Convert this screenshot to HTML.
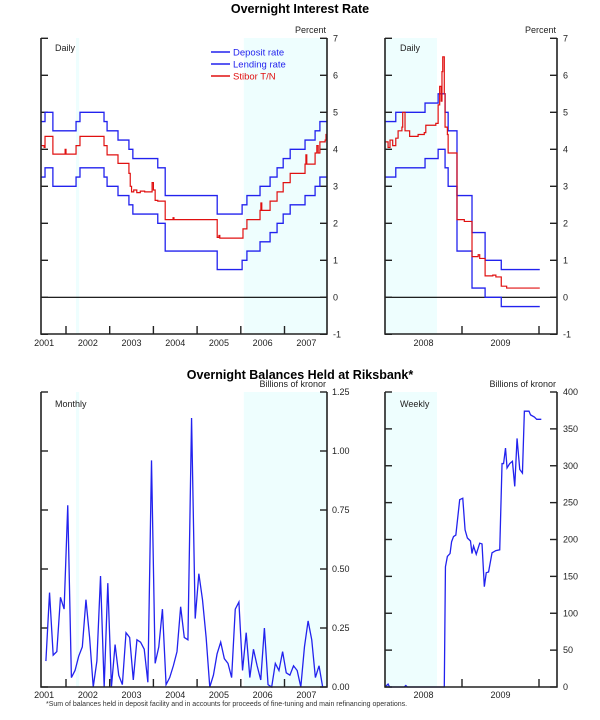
<!DOCTYPE html>
<html><head><meta charset="utf-8"><style>
body{margin:0;background:#fff;}
svg{display:block;font-family:"Liberation Sans",Arial,sans-serif;}
</style></head><body>
<svg id="c" width="600" height="720" viewBox="0 0 600 720" xmlns="http://www.w3.org/2000/svg">
<text x="300" y="13" text-anchor="middle" font-size="12.5" font-weight="bold">Overnight Interest Rate</text>
<text x="300" y="379" text-anchor="middle" font-size="12.5" font-weight="bold">Overnight Balances Held at Riksbank*</text>
<text x="46" y="706" font-size="7" fill="#333">*Sum of balances held in deposit facility and in accounts for proceeds of fine-tuning and main refinancing operations.</text>
<g id="g"></g>
</svg>
<script>
// ---- data ----
const leftLendDates=[2001.43,2001.52,2001.70,2002.23,2002.32,2002.87,2002.94,2003.19,2003.44,2003.53,2004.10,2004.27,2005.46,2006.03,2006.14,2006.44,2006.67,2006.83,2006.97,2007.13,2007.47,2007.70,2007.81];
const leftLendVals=[4.75,5.0,4.5,4.75,5.0,4.75,4.5,4.25,4.0,3.75,3.5,2.75,2.25,2.5,2.75,3.0,3.25,3.5,3.75,4.0,4.25,4.5,4.75];
const leftDepDates=[2001.43,2001.52,2001.70,2002.23,2002.32,2002.87,2002.94,2003.19,2003.44,2003.53,2004.10,2004.27,2005.46,2006.03,2006.14,2006.44,2006.67,2006.83,2006.97,2007.13,2007.47,2007.70,2007.81];
const leftDepVals=[3.25,3.5,3.0,3.25,3.5,3.25,3.0,2.75,2.5,2.25,2.0,1.25,0.75,1.0,1.25,1.5,1.75,2.0,2.25,2.5,2.75,3.0,3.25];
const leftStiborDates=[2001.43,2001.50,2001.52,2001.70,2001.98,2002.0,2002.23,2002.32,2002.87,2002.94,2003.19,2003.44,2003.47,2003.50,2003.55,2003.62,2003.70,2003.80,2003.97,2004.00,2004.04,2004.10,2004.27,2004.45,2004.47,2005.46,2005.50,2005.52,2006.05,2006.14,2006.44,2006.46,2006.48,2006.67,2006.83,2006.97,2007.13,2007.47,2007.49,2007.51,2007.70,2007.74,2007.77,2007.81,2007.93,2007.95];
const leftStiborVals=[4.1,4.05,4.35,3.87,4.0,3.87,4.1,4.35,4.1,3.85,3.62,3.35,3.0,2.85,2.9,2.83,2.87,2.85,3.1,2.9,2.62,2.6,2.1,2.15,2.1,1.62,1.67,1.6,1.85,2.1,2.35,2.55,2.35,2.6,2.85,3.1,3.35,3.6,3.85,3.6,3.9,4.1,3.9,4.2,4.25,4.4];
const rightLendDates=[2008.0,2008.14,2008.52,2008.69,2008.78,2008.82,2008.935,2009.13,2009.30,2009.51];
const rightLendVals=[4.75,5.0,5.25,5.5,5.0,4.5,2.75,1.75,1.0,0.75];
const rightDepDates=[2008.0,2008.14,2008.52,2008.69,2008.78,2008.82,2008.935,2009.13,2009.30,2009.51];
const rightDepVals=[3.25,3.5,3.75,4.0,3.5,3.0,1.25,0.25,0.0,-0.25];
const rightStiborDates=[2008.0,2008.04,2008.065,2008.10,2008.14,2008.17,2008.22,2008.23,2008.26,2008.32,2008.43,2008.51,2008.53,2008.66,2008.69,2008.71,2008.73,2008.74,2008.75,2008.77,2008.78,2008.81,2008.82,2008.935,2009.03,2009.13,2009.21,2009.23,2009.30,2009.40,2009.44,2009.51,2009.58];
const rightStiborVals=[4.2,4.05,4.25,4.1,4.3,4.5,4.6,5.0,4.5,4.35,4.4,4.45,4.65,4.7,5.2,5.7,5.3,6.1,6.5,5.5,4.6,4.4,3.9,2.1,2.05,1.1,1.15,1.05,0.58,0.6,0.55,0.3,0.25];
const monthlyStart=2001.54;
const monthlyVals=[0.11,0.40,0.135,0.15,0.38,0.33,0.77,0.04,0.07,0.13,0.17,0.37,0.21,0,0.11,0.47,0,0.44,0,0.18,0.05,0.01,0.23,0.21,0.03,0.20,0.19,0.16,0.02,0.96,0.10,0.17,0.33,0.01,0.04,0.09,0.15,0.34,0.21,0.20,1.14,0.29,0.48,0.37,0.21,0,0.05,0.14,0.19,0.12,0.10,0.04,0.33,0.36,0.07,0.23,0.04,0.16,0.09,0.03,0.25,0.01,0,0.10,0.07,0.15,0.06,0.05,0.09,0.07,0,0.17,0.28,0.20,0.04,0.09,0];
const weeklyDates=[2008.0,2008.04,2008.06,2008.25,2008.27,2008.29,2008.77,2008.785,2008.81,2008.845,2008.865,2008.89,2008.92,2008.97,2009.01,2009.04,2009.07,2009.11,2009.13,2009.15,2009.185,2009.23,2009.26,2009.29,2009.315,2009.345,2009.39,2009.44,2009.49,2009.52,2009.54,2009.565,2009.585,2009.62,2009.655,2009.685,2009.715,2009.75,2009.785,2009.81,2009.87,2009.89,2009.94,2009.97,2010.03];
const weeklyVals=[0,4,0,0,2,0,0,163,177,181,197,204,206,254,256,213,202,198,181,191,180,195,194,136,155,156,182,185,186,303,303,324,297,303,306,272,337,295,290,374,374,369,366,363,363];
const yTicksTop=[-1,0,1,2,3,4,5,6,7];
const yTicksBL=["0.00","0.25","0.50","0.75","1.00","1.25"];
const yTicksBR=[0,50,100,150,200,250,300,350,400];
const yearsLeft=[2001,2002,2003,2004,2005,2006,2007];
const yearsRight=[2008,2009];

// ---- scales ----
const xL=t=>66+(t-2002)*43.7, xR=t=>385+(t-2008)*77;
const yT=v=>297.3-37*v, yBL=v=>687-236*v, yBR=v=>687-295*v/400;
const NS="http://www.w3.org/2000/svg", G=document.getElementById('g');
function el(tag,at,parent){const e=document.createElementNS(NS,tag);for(const k in at)e.setAttribute(k,at[k]);(parent||G).appendChild(e);return e;}
function txt(x,y,s,anchor,size,fill){const e=el('text',{x:x,y:y,'text-anchor':anchor||'start','font-size':size||9,fill:fill||'#222'});e.textContent=s;return e;}
function stepPath(dates,vals,end,X,Y){let d='M'+X(dates[0])+' '+Y(vals[0]);for(let i=1;i<dates.length;i++){d+=' H'+X(dates[i])+' V'+Y(vals[i]);}d+=' H'+X(end);return d;}
function linePath(xs,vals,X,Y){return vals.map((v,i)=>(i?'L':'M')+X(xs[i])+' '+Y(v)).join(' ');}

function frame(x0,x1,yTop,yBot,name){
  const f=el('path',{d:`M${x0} ${yTop} V${yBot} H${x1} V${yTop}`,fill:'none',stroke:'#222','stroke-width':1.6});
  
  
}
function shade(x0,x1,y0,y1,name){const r=el('rect',{x:x0,y:y0,width:x1-x0,height:y1-y0,fill:'#eefefe'});
  
  }

// ===== top-left =====
shade(xL(2002.23),xL(2002.30),38,334,'recession-shade');
shade(xL(2006.07),327,38,334,'recession-shade');
// top-right shade
shade(385,xR(2008.675),38,334,'recession-shade');
// bottom shades
shade(xL(2002.23),xL(2002.30),392,687,'recession-shade');
shade(xL(2006.07),327,392,687,'recession-shade');
shade(385,xR(2008.675),392,687,'recession-shade');

function topPanel(X,x0,x1,lend,lendV,dep,depV,st,stV,end,years,yearX,name){
  const zl=el('line',{x1:x0,x2:x1,y1:yT(0),y2:yT(0),stroke:'#000','stroke-width':1.2});
  
  
  yTicksTop.forEach(v=>{
    el('line',{x1:x0,x2:x0+7,y1:yT(v),y2:yT(v),stroke:'#222','stroke-width':1.4});
    el('line',{x1:x1-7,x2:x1,y1:yT(v),y2:yT(v),stroke:'#222','stroke-width':1.4});
    const t=txt(x1+6,yT(v)+3,String(v),'start',9);
    
    
  });
  let p=el('path',{d:stepPath(lend,lendV,end,X,yT),fill:'none',stroke:'#2222ee','stroke-width':1.3});
  
  
  p=el('path',{d:stepPath(dep,depV,end,X,yT),fill:'none',stroke:'#2222ee','stroke-width':1.3});
  
  
  p=el('path',{d:stepPath(st,stV,end,X,yT),fill:'none',stroke:'#e01010','stroke-width':1.2});
  
  
  frame(x0,x1,38,334,name);
  years.forEach(y=>{
    const tx=X(y+1);
    if(tx<x1-2) el('line',{x1:tx,x2:tx,y1:334,y2:326,stroke:'#222','stroke-width':1.4});
    const t=txt(yearX(y),346,String(y),'middle',9);
    
    
  });
}
topPanel(xL,41,327,leftLendDates,leftLendVals,leftDepDates,leftDepVals,leftStiborDates,leftStiborVals,2007.97,yearsLeft,y=>Math.max(44,xL(y+0.5)),'top-left');
topPanel(xR,385,557,rightLendDates,rightLendVals,rightDepDates,rightDepVals,rightStiborDates,rightStiborVals,2010.01,yearsRight,y=>xR(y+0.5),'top-right');
txt(326,33,'Percent','end',9);
txt(556,33,'Percent','end',9);
let t1=txt(55,51,'Daily','start',9);


t1=txt(400,51,'Daily','start',9);


// legend
[['Deposit rate','#2222ee',52],['Lending rate','#2222ee',64],['Stibor T/N','#e01010',76]].forEach(l=>{
  const g=el('g',{});
  
  
  el('line',{x1:211,x2:230,y1:l[2],y2:l[2],stroke:l[1],'stroke-width':1.5},g);
  const t=el('text',{x:233,y:l[2]+3.5,'font-size':9.5,fill:l[1]},g);t.textContent=l[0];
});

// ===== bottom-left =====
yTicksBL.forEach(s=>{const v=parseFloat(s);
  el('line',{x1:41,x2:48,y1:yBL(v),y2:yBL(v),stroke:'#222','stroke-width':1.4});
  el('line',{x1:320,x2:327,y1:yBL(v),y2:yBL(v),stroke:'#222','stroke-width':1.4});
  const t=txt(332,yBL(v)+3,s,'start',9);
  
  
});
const monthlyDates=monthlyVals.map((v,i)=>monthlyStart+i/12);
let mp=el('path',{d:linePath(monthlyDates,monthlyVals,xL,yBL),fill:'none',stroke:'#2222ee','stroke-width':1.3});


frame(41,327,392,687,'bottom-left');
yearsLeft.forEach(y=>{const tx=xL(y+1);
  if(tx<325) el('line',{x1:tx,x2:tx,y1:687,y2:679,stroke:'#222','stroke-width':1.4});
  const t=txt(Math.max(44,xL(y+0.5)),698,String(y),'middle',9);
  
  });
txt(326,387,'Billions of kronor','end',9);
t1=txt(55,407,'Monthly','start',9);



// ===== bottom-right =====
yTicksBR.forEach(v=>{
  el('line',{x1:385,x2:392,y1:yBR(v),y2:yBR(v),stroke:'#222','stroke-width':1.4});
  el('line',{x1:550,x2:557,y1:yBR(v),y2:yBR(v),stroke:'#222','stroke-width':1.4});
  const t=txt(563,yBR(v)+3,String(v),'start',9);
  
  
});
let wp=el('path',{d:linePath(weeklyDates,weeklyVals,xR,yBR),fill:'none',stroke:'#2222ee','stroke-width':1.3});


frame(385,557,392,687,'bottom-right');
yearsRight.forEach(y=>{const tx=xR(y+1);
  el('line',{x1:tx,x2:tx,y1:687,y2:679,stroke:'#222','stroke-width':1.4});
  const t=txt(xR(y+0.5),698,String(y),'middle',9);
  
  });
txt(556,387,'Billions of kronor','end',9);
t1=txt(400,407,'Weekly','start',9);


</script>
</body></html>
